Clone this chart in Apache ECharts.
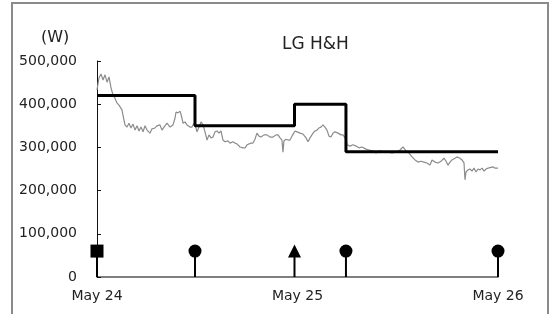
<!DOCTYPE html>
<html>
<head>
<meta charset="utf-8">
<script src="https://cdn.jsdelivr.net/npm/echarts@6/dist/echarts.min.js"></script>
<style>
html,body{margin:0;padding:0;background:#fff;}
#chart{width:552px;height:314px;}
</style>
</head>
<body>
<div id="chart"></div>
<script>
// ---- data ----
const titleText = 'LG H&H';
const unitText = '(W)';
const xTickHours = [0, 24, 48];
const xTickLabels = ['May 24', 'May 25', 'May 26'];
const yTicks = [0, 100000, 200000, 300000, 400000, 500000];

// gray price line: hours since May 24 00:00, price
const priceHours = [0,0.24,0.48,0.72,0.96,1.2,1.44,1.68,1.92,2.15,2.39,2.63,2.99,3.23,3.35,3.59,3.83,4.07,4.31,4.55,4.79,5.03,5.27,5.51,5.75,5.99,6.34,6.58,6.94,7.18,7.54,7.78,8.02,8.38,8.74,9.10,9.34,9.46,9.70,9.94,10.17,10.29,10.53,10.77,11.13,11.37,11.61,11.85,11.97,12.21,12.45,12.69,12.93,13.17,13.41,13.65,13.89,14.12,14.36,14.60,14.84,15.08,15.32,15.68,15.92,16.28,16.52,16.76,17.12,17.48,17.72,17.96,18.19,18.43,18.67,18.91,19.15,19.39,19.63,19.99,20.35,20.71,21.07,21.43,21.67,21.91,22.14,22.26,22.38,22.62,22.86,23.10,23.34,23.70,23.94,24.30,24.66,25.02,25.26,25.50,25.86,26.09,26.33,26.57,26.81,27.05,27.29,27.53,27.77,28.01,28.25,28.49,28.85,29.21,29.45,29.69,29.81,29.93,30.28,30.64,31.00,31.36,31.72,32.20,32.56,32.92,33.40,33.88,34.36,34.83,35.31,35.79,36.27,36.63,36.99,37.35,37.71,38.07,38.42,38.78,39.14,39.50,39.86,40.10,40.46,40.82,41.18,41.54,41.78,42.02,42.25,42.49,42.85,43.09,43.45,43.69,43.93,44.05,44.17,44.41,44.65,44.89,45.13,45.37,45.61,45.85,46.09,46.33,46.57,46.81,47.04,47.40,47.64,48.00];
const priceValues = [433000,461000,470000,456000,468000,451000,463000,438000,421000,414000,403000,398000,387000,363000,352000,347000,356000,345000,354000,340000,350000,338000,347000,336000,350000,340000,333000,343000,345000,350000,352000,340000,347000,356000,347000,352000,368000,382000,380000,384000,368000,356000,359000,352000,347000,347000,356000,345000,336000,347000,359000,352000,336000,317000,329000,322000,324000,336000,338000,333000,338000,317000,313000,315000,310000,313000,310000,308000,301000,299000,299000,306000,303000,310000,310000,319000,333000,326000,324000,329000,329000,324000,324000,329000,329000,322000,317000,289000,315000,319000,317000,317000,326000,338000,336000,333000,331000,322000,313000,322000,333000,338000,340000,345000,347000,352000,347000,340000,326000,324000,333000,336000,333000,329000,329000,322000,317000,306000,303000,306000,303000,299000,301000,296000,294000,292000,287000,292000,289000,289000,287000,289000,294000,301000,292000,287000,278000,271000,266000,268000,266000,264000,259000,271000,266000,264000,268000,275000,268000,259000,266000,271000,275000,278000,275000,271000,264000,225000,243000,248000,250000,245000,252000,243000,250000,248000,252000,245000,250000,252000,250000,255000,252000,252000];

// black step line
const stepHours = [0, 11.73, 23.64, 29.8, 48];
const stepValues = [420000, 350000, 400000, 290000, 290000];

// event markers
const eventHours = [0, 11.73, 23.64, 29.8, 48];
const eventValues = [60000, 60000, 60000, 60000, 60000];
const eventSymbols = ['rect', 'circle', 'triangle', 'circle', 'circle'];

// ---- chart ----
const FONT = 'DejaVu Sans';
const chart = echarts.init(document.getElementById('chart'), null, {renderer: 'canvas'});

const priceData = priceHours.map((h, i) => [h, priceValues[i]]);
const stepData = stepHours.map((h, i) => [h, stepValues[i]]);
const eventData = eventHours.map((h, i) => ({value: [h, eventValues[i]], symbol: eventSymbols[i]}));

chart.setOption({
  animation: false,
  backgroundColor: '#fff',
  title: {
    text: titleText,
    left: 277, top: 31,
    textStyle: {fontFamily: FONT, fontSize: 17, fontWeight: 'normal', color: '#222'}
  },
  graphic: [
    {type: 'rect', shape: {x: 12, y: 3, width: 536, height: 330},
     style: {fill: 'none', stroke: '#8a8a8a', lineWidth: 2}, silent: true},
    {type: 'text', left: 41, top: 30,
     style: {text: unitText, font: '16px "DejaVu Sans"', fill: '#222'}}
  ],
  grid: {left: 97, right: 54, top: 61, bottom: 37, containLabel: false},
  xAxis: {
    type: 'value', min: 0, max: 48, interval: 24,
    axisLine: {show: true, onZero: false, lineStyle: {color: '#555', width: 1.5}},
    axisTick: {show: false},
    splitLine: {show: false},
    axisLabel: {
      margin: 12, fontFamily: FONT, fontSize: 14, color: '#222',
      formatter: v => { const i = xTickHours.indexOf(v); return i >= 0 ? xTickLabels[i] : ''; }
    }
  },
  yAxis: {
    type: 'value', min: 0, max: 500000, interval: 100000,
    axisLine: {show: true, lineStyle: {color: '#111', width: 1}},
    axisTick: {show: true, inside: true, length: 4, lineStyle: {color: '#111'}},
    splitLine: {show: false},
    axisLabel: {
      margin: 20, fontFamily: FONT, fontSize: 14, color: '#222',
      formatter: v => yTicks.indexOf(v) >= 0 ? v.toLocaleString('en-US') : ''
    }
  },
  series: [
    {
      type: 'line', data: priceData, showSymbol: false, symbol: 'none',
      lineStyle: {color: '#8c8c8c', width: 1.2}, z: 2
    },
    {
      type: 'line', data: stepData, step: 'end', showSymbol: false, symbol: 'none',
      lineStyle: {color: '#000', width: 3}, z: 3
    },
    {
      type: 'custom', data: eventData.map(d => d.value), z: 4,
      renderItem: (params, api) => {
        const p0 = api.coord([api.value(0), 0]);
        const p1 = api.coord([api.value(0), api.value(1)]);
        return {type: 'line', shape: {x1: p0[0], y1: p0[1], x2: p1[0], y2: p1[1]},
                style: {stroke: '#000', lineWidth: 2}};
      }
    },
    {
      type: 'scatter', data: eventData, symbolSize: 13,
      itemStyle: {color: '#000', opacity: 1}, z: 5
    }
  ]
});
</script>
</body>
</html>
